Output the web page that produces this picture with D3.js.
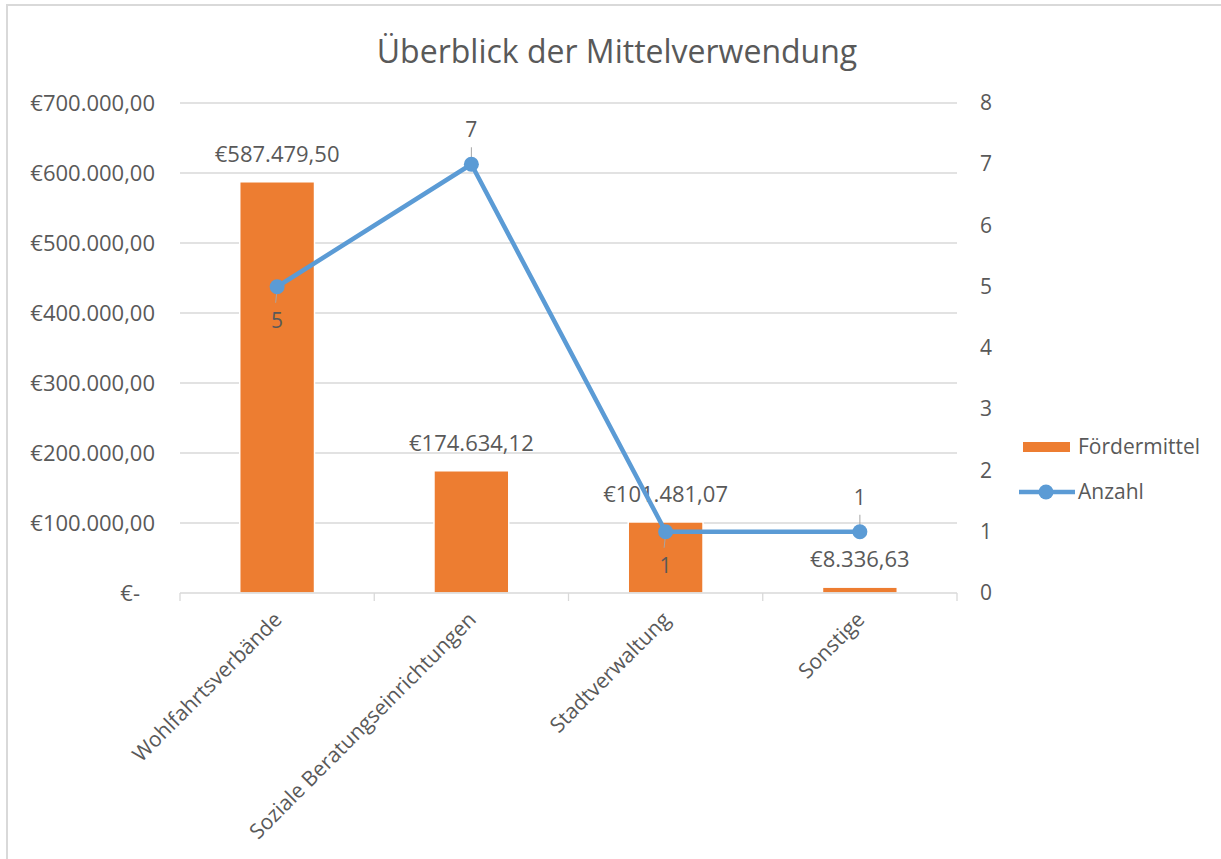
<!DOCTYPE html>
<html lang="de">
<head>
    <meta charset="UTF-8">
    <title>Überblick der Mittelverwendung</title>
    <script src="https://cdn.jsdelivr.net/npm/d3@7"></script>
    <style>
        body{ margin:0; background:#fff; }
        svg text{ font-family:"Open Sans", sans-serif; fill:#595959; }
        .title{ font-size:32px; }
        .lbl{ font-size:21px; }
        .num{ font-size:22px; }
        .grid line{ stroke:#d9d9d9; stroke-width:1.3; }
    </style>
</head>
<body>
<svg width="1221" height="859"></svg>
<script>
    // chart values
    const categories = ["Wohlfahrtsverbände", "Soziale Beratungseinrichtungen", "Stadtverwaltung", "Sonstige"];
    const foerdermittel = [587479.50, 174634.12, 101481.07, 8336.63];
    const anzahl = [5, 7, 1, 1];
    const leftTicks = [0, 100000, 200000, 300000, 400000, 500000, 600000, 700000];
    const rightTicks = [0, 1, 2, 3, 4, 5, 6, 7, 8];
    // where the count label sits: above or below its point
    const anzahlLabelPos = ["below", "above", "below", "above"];

    const svg = d3.select("svg");
    const orange = "#ed7d31", blue = "#5b9bd5";

    // outer chart border
    svg.append("rect").attr("x", 7).attr("y", 5).attr("width", 1400).attr("height", 1000)
        .attr("fill", "none").attr("stroke", "#d9d9d9").attr("stroke-width", 2);

    const pLeft = 180, pRight = 957, pTop = 103, pBottom = 593;

    const x = d3.scaleBand().domain(categories).range([pLeft, pRight]);
    const yL = d3.scaleLinear().domain([0, 700000]).range([pBottom, pTop]);
    const yR = d3.scaleLinear().domain([0, 8]).range([pBottom, pTop]);

    const de = d3.formatLocale({decimal: ",", thousands: ".", grouping: [3], currency: ["€", ""]});
    const euro = de.format("$,.2f");

    svg.append("text").attr("class", "title")
        .attr("x", 617).attr("y", 63).attr("text-anchor", "middle")
        .text("Überblick der Mittelverwendung");

    // gridlines
    svg.append("g").attr("class", "grid")
        .selectAll("line").data(leftTicks.filter(d => d > 0)).join("line")
        .attr("x1", pLeft).attr("x2", pRight)
        .attr("y1", d => yL(d)).attr("y2", d => yL(d));

    // left axis
    const gl = svg.append("g").attr("transform", `translate(${pLeft},0)`)
        .call(d3.axisLeft(yL).tickValues(leftTicks).tickSize(0).tickPadding(25)
            .tickFormat(d => d === 0 ? "€-" : euro(d)));
    gl.select(".domain").remove();
    gl.attr("font-family", null).attr("font-size", null);
    gl.selectAll("text").attr("class", "num").attr("fill", "#595959")
        .attr("dx", d => d === 0 ? -15 : 0);

    // right axis
    const gr = svg.append("g").attr("transform", `translate(${pRight},0)`)
        .call(d3.axisRight(yR).tickValues(rightTicks).tickSize(0).tickPadding(23));
    gr.select(".domain").remove();
    gr.attr("font-family", null).attr("font-size", null);
    gr.selectAll("text").attr("class", "lbl").attr("fill", "#595959");

    // bars
    const barW = x.bandwidth() * 0.385;
    svg.append("g").selectAll("rect").data(foerdermittel).join("rect")
        .attr("x", (d, i) => x(categories[i]) + x.bandwidth() / 2 - barW / 2)
        .attr("width", barW)
        .attr("y", d => yL(d))
        .attr("height", d => yL(0) - yL(d))
        .attr("fill", orange).attr("stroke", "#fff").attr("stroke-width", 1.5);

    // category axis
    const gx = svg.append("g").attr("transform", `translate(0,${pBottom})`)
        .call(d3.axisBottom(x).tickSize(0).tickFormat(""));
    gx.select(".domain").attr("stroke", "#d9d9d9").attr("stroke-width", 1.3).attr("d", `M${pLeft},0H${pRight}`);
    gx.selectAll(".tick").remove();
    gx.selectAll("line.sep").data(d3.range(categories.length + 1)).join("line")
        .attr("class", "sep")
        .attr("x1", i => pLeft + i * x.bandwidth()).attr("x2", i => pLeft + i * x.bandwidth())
        .attr("y1", 0).attr("y2", 8).attr("stroke", "#d9d9d9").attr("stroke-width", 1.3);

    // rotated category labels
    svg.append("g").selectAll("text").data(categories).join("text")
        .attr("class", "lbl")
        .attr("text-anchor", "end")
        .attr("transform", d => `translate(${x(d) + x.bandwidth() / 2 + 6},${pBottom + 28}) rotate(-45)`)
        .text(d => d);

    // bar value labels
    svg.append("g").selectAll("text").data(foerdermittel).join("text")
        .attr("class", "num").attr("text-anchor", "middle")
        .attr("x", (d, i) => x(categories[i]) + x.bandwidth() / 2)
        .attr("y", d => yL(d) - 20)
        .text(d => euro(d));

    // line series
    const cx = i => x(categories[i]) + x.bandwidth() / 2;
    svg.append("path").datum(anzahl)
        .attr("fill", "none").attr("stroke", blue).attr("stroke-width", 4.5)
        .attr("stroke-linejoin", "round")
        .attr("d", d3.line().x((d, i) => cx(i)).y(d => yR(d)));

    // leader lines for count labels
    svg.append("g").selectAll("line").data(anzahl).join("line")
        .attr("x1", (d, i) => cx(i)).attr("x2", (d, i) => cx(i) + (anzahlLabelPos[i] === "below" ? -1.5 : 0))
        .attr("y1", (d, i) => anzahlLabelPos[i] === "below" ? yR(d) + 2 : yR(d) - 4)
        .attr("y2", (d, i) => anzahlLabelPos[i] === "below" ? yR(d) + 16 : yR(d) - 17)
        .attr("stroke", "#a6a6a6").attr("stroke-width", 1);

    svg.append("g").selectAll("circle").data(anzahl).join("circle")
        .attr("cx", (d, i) => cx(i)).attr("cy", d => yR(d)).attr("r", 7.5)
        .attr("fill", blue);

    svg.append("g").selectAll("text").data(anzahl).join("text")
        .attr("class", "lbl").attr("text-anchor", "middle")
        .attr("x", (d, i) => cx(i))
        .attr("y", (d, i) => anzahlLabelPos[i] === "below" ? yR(d) + 41 : yR(d) - 27)
        .text(d => d);

    // legend
    const lg = svg.append("g");
    lg.append("rect").attr("x", 1023).attr("y", 442).attr("width", 47).attr("height", 10).attr("fill", orange);
    lg.append("text").attr("class", "lbl").attr("x", 1078).attr("y", 454).text("Fördermittel");
    lg.append("line").attr("x1", 1019).attr("x2", 1075).attr("y1", 492).attr("y2", 492)
        .attr("stroke", blue).attr("stroke-width", 4.5);
    lg.append("circle").attr("cx", 1046).attr("cy", 492).attr("r", 7.5).attr("fill", blue);
    lg.append("text").attr("class", "lbl").attr("x", 1078).attr("y", 499).text("Anzahl");
</script>
</body>
</html>
